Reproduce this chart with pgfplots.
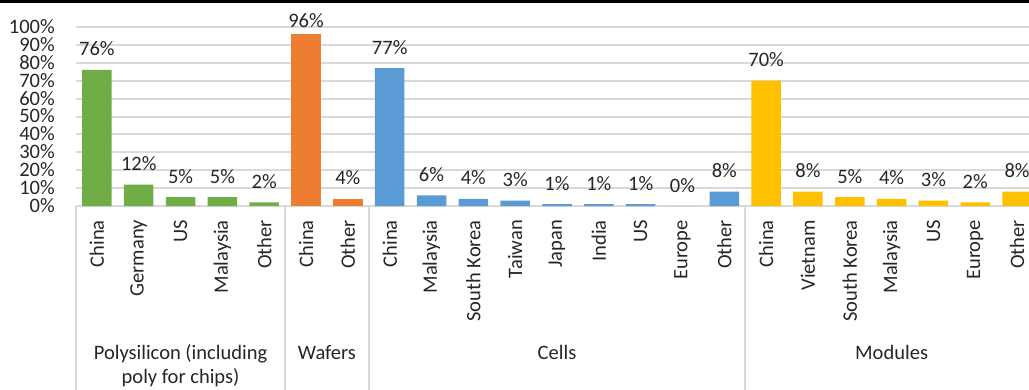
\documentclass[border=0pt]{standalone}
\usepackage{pgfplots}
\pgfplotsset{compat=1.18}
\usepackage{fontspec}
\setmainfont{Carlito}
\definecolor{polygreen}{HTML}{70AD47}
\definecolor{waferorange}{HTML}{ED7D31}
\definecolor{cellblue}{HTML}{5B9BD5}
\definecolor{modgold}{HTML}{FFC000}
\definecolor{gridgray}{HTML}{D9D9D9}
\definecolor{txt}{HTML}{262626}
\pgfplotsset{
  barsty/.style 2 args={
    ybar, bar width=29.5bp, bar shift=0pt, fill=#1, draw=none,
    point meta=y,
    nodes near coords={\pgfmathprintnumber[assume math mode=true]{\pgfplotspointmeta}\%},
    every node near coord/.append style={anchor=base, inner sep=0pt, yshift=#2, text=txt},
  },
}
\begin{document}
\begin{tikzpicture}[font=\fontsize{20.6}{24}\selectfont, text=txt]
\path[use as bounding box] (0,0) rectangle (1029bp,390bp);
\clip (0,0) rectangle (1029bp,390bp);
% thin dark band along the top edge
\fill[black] (0,387bp) rectangle (1029bp,390bp);
\begin{axis}[
  at={(76bp,184bp)}, anchor=south west,
  scale only axis, width=962bp, height=179bp,
  xmin=-0.5, xmax=22.5, ymin=0, ymax=100,
  clip=false,
  axis line style={draw=none},
  major tick length=0pt,
  ymajorgrids, grid style={gridgray, line width=2bp},
  ytick={0,10,...,100},
  yticklabels={0\%,10\%,20\%,30\%,40\%,50\%,60\%,70\%,80\%,90\%,100\%},
  yticklabel style={inner sep=0pt, xshift=-21bp, text=txt, text height=13bp, text depth=0pt},
  xtick={0,...,22},
  xticklabels={China,Germany,US,Malaysia,Other,China,Other,China,Malaysia,South Korea,Taiwan,Japan,India,US,Europe,Other,China,Vietnam,South Korea,Malaysia,US,Europe,Other},
  xticklabel style={rotate=90, anchor=east, inner sep=0pt, text=txt},
  xticklabel shift=14bp,
]
% Polysilicon
\addplot[barsty={polygreen}{14bp}] coordinates {(0,76) (1,12) (2,5) (3,5) (4,2)};
% Wafers
\addplot[barsty={waferorange}{7bp}] coordinates {(5,96)};
\addplot[barsty={waferorange}{14bp}] coordinates {(6,4)};
% Cells
\addplot[barsty={cellblue}{14bp}] coordinates {(7,77) (8,6) (9,4) (10,3) (11,1) (12,1) (13,1) (14,0) (15,8)};
% Modules
\addplot[barsty={modgold}{14bp}] coordinates {(16,70) (17,8) (18,5) (19,4) (20,3) (21,2) (22,8)};
% group separators below the category axis
\pgfplotsinvokeforeach{-0.5,4.5,6.5,15.5,22.5}{
  \draw[gridgray, line width=2bp] (axis cs:#1,0) -- (axis cs:#1,-115);
}
% group names
\node[anchor=base, yshift=-153bp] at (axis cs:2,0) {Polysilicon (including};
\node[anchor=base, yshift=-177bp] at (axis cs:2,0) {poly for chips)};
\node[anchor=base, yshift=-153bp] at (axis cs:5.5,0) {Wafers};
\node[anchor=base, yshift=-153bp] at (axis cs:11,0) {Cells};
\node[anchor=base, yshift=-153bp] at (axis cs:19,0) {Modules};
\end{axis}
\end{tikzpicture}
\end{document}
